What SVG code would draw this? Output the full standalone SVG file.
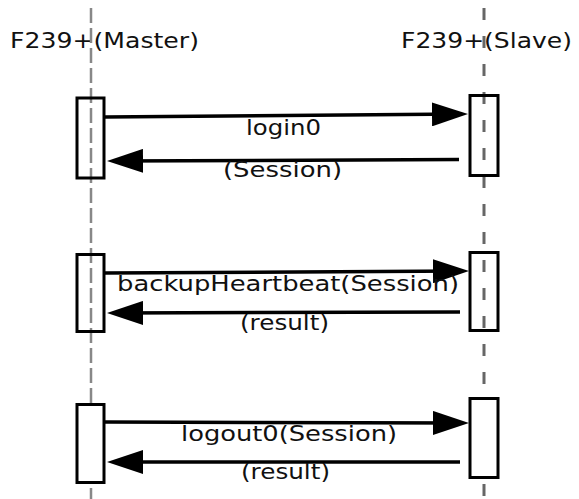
<svg xmlns="http://www.w3.org/2000/svg" width="579" height="499" viewBox="0 0 579 499">
<style>
text{font-family:"DejaVu Sans","Noto Sans",sans-serif;font-size:22px;fill:#111}
.ll-m{stroke:#888;stroke-width:2.5;stroke-dasharray:15 5;fill:none}
.ll-s{stroke:#666;stroke-width:3;stroke-dasharray:12 16;fill:none}
.act{stroke:#000;stroke-width:3;fill:none}
.act-w{stroke:#000;stroke-width:3;fill:#fff}
.msg{stroke:#000;stroke-width:3.5;fill:none;marker-end:url(#ah)}
</style>
<defs>
<marker id="ah" markerUnits="userSpaceOnUse" markerWidth="36" markerHeight="24" refX="30" refY="12" orient="auto">
<path d="M0,0 L36,12 L0,24 Z" fill="#000"/>
</marker>
</defs>
<rect width="579" height="499" fill="#fff"/>
<g id="master">
<text x="10" y="48" textLength="189" lengthAdjust="spacingAndGlyphs">F239+(Master)</text>
<line class="ll-m" x1="91" y1="8" x2="91" y2="499"/>
<rect class="act" x="77" y="98" width="27" height="80"/>
<rect class="act" x="77" y="254.5" width="27" height="77"/>
<rect class="act-w" x="77" y="404.5" width="27" height="78"/>
</g>
<g id="slave">
<text x="401" y="48" textLength="171" lengthAdjust="spacingAndGlyphs">F239+(Slave)</text>
<line class="ll-s" x1="484" y1="8" x2="484" y2="499"/>
<rect class="act" x="470" y="95.5" width="28" height="80"/>
<rect class="act" x="470" y="252.5" width="28" height="78"/>
<rect class="act-w" x="470" y="398.5" width="28" height="79"/>
</g>
<g id="connectors">
<line class="msg" x1="105" y1="117" x2="462" y2="114.1"/>
<text x="246" y="135" textLength="75" lengthAdjust="spacingAndGlyphs">login0</text>
<line class="msg" x1="459" y1="159.5" x2="113" y2="161"/>
<text x="223" y="177" textLength="119" lengthAdjust="spacingAndGlyphs">(Session)</text>
<line class="msg" x1="105" y1="273" x2="463" y2="271.1"/>
<text x="117" y="291" textLength="342" lengthAdjust="spacingAndGlyphs">backupHeartbeat(Session)</text>
<line class="msg" x1="460" y1="312" x2="113" y2="313"/>
<text x="240" y="330" textLength="89" lengthAdjust="spacingAndGlyphs">(result)</text>
<line class="msg" x1="105" y1="422" x2="463" y2="423"/>
<text x="181" y="441" textLength="216" lengthAdjust="spacingAndGlyphs">logout0(Session)</text>
<line class="msg" x1="460" y1="462" x2="113" y2="462"/>
<text x="241" y="479" textLength="89" lengthAdjust="spacingAndGlyphs">(result)</text>
</g>
</svg>
